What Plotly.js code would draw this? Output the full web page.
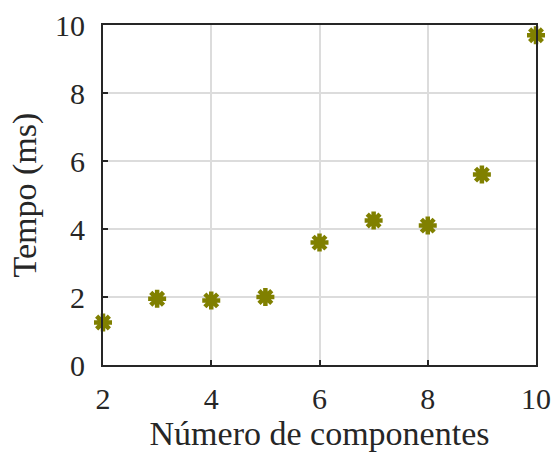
<!DOCTYPE html>
<html><head><meta charset="utf-8">
<script src="https://cdn.plot.ly/plotly-3.0.1.min.js"></script>
<style>body{margin:0;background:#fff}#c{width:552px;height:456px}</style>
</head><body><div id="c"></div>
<script>
const components = [2, 3, 4, 5, 6, 7, 8, 9, 10];
const timeMs = [1.25, 1.95, 1.9, 2.0, 3.6, 4.25, 4.1, 5.6, 9.7];
const xTicks = [2, 4, 6, 8, 10];
const yTicks = [0, 2, 4, 6, 8, 10];

const tickFont = {family: 'Liberation Serif, serif', size: 30, color: '#262626'};
const titleFont = {family: 'Liberation Serif, serif', size: 34, color: '#262626'};
const data = [{
  x: components, y: timeMs, type: 'scatter', mode: 'markers', cliponaxis: false,
  marker: {symbol: 'asterisk-open', size: 15, color: '#808000', line: {width: 4.5, color: '#808000'}},
  hoverinfo: 'x+y', showlegend: false
}];
const axis = {
  showline: true, linecolor: '#262626', linewidth: 2, mirror: true,
  ticks: 'inside', ticklen: 5, tickwidth: 2, tickcolor: '#262626',
  showgrid: true, gridcolor: '#dcdcdc', gridwidth: 2, zeroline: false,
  tickfont: tickFont
};
const layout = {
  width: 552, height: 456,
  margin: {l: 103, r: 16, t: 25, b: 91},
  paper_bgcolor: '#fff', plot_bgcolor: '#fff',
  font: tickFont,
  xaxis: Object.assign({}, axis, {range: [2, 10], tickvals: xTicks, ticklabelstandoff: 6,
    title: {text: 'Número de componentes', font: titleFont, standoff: 2}}),
  yaxis: Object.assign({}, axis, {range: [0, 10], tickvals: yTicks, ticklabelstandoff: 10,
    title: {text: 'Tempo (ms)', font: titleFont, standoff: 8}})
};
Plotly.newPlot('c', data, layout, {displayModeBar: false, staticPlot: true});
</script></body></html>
